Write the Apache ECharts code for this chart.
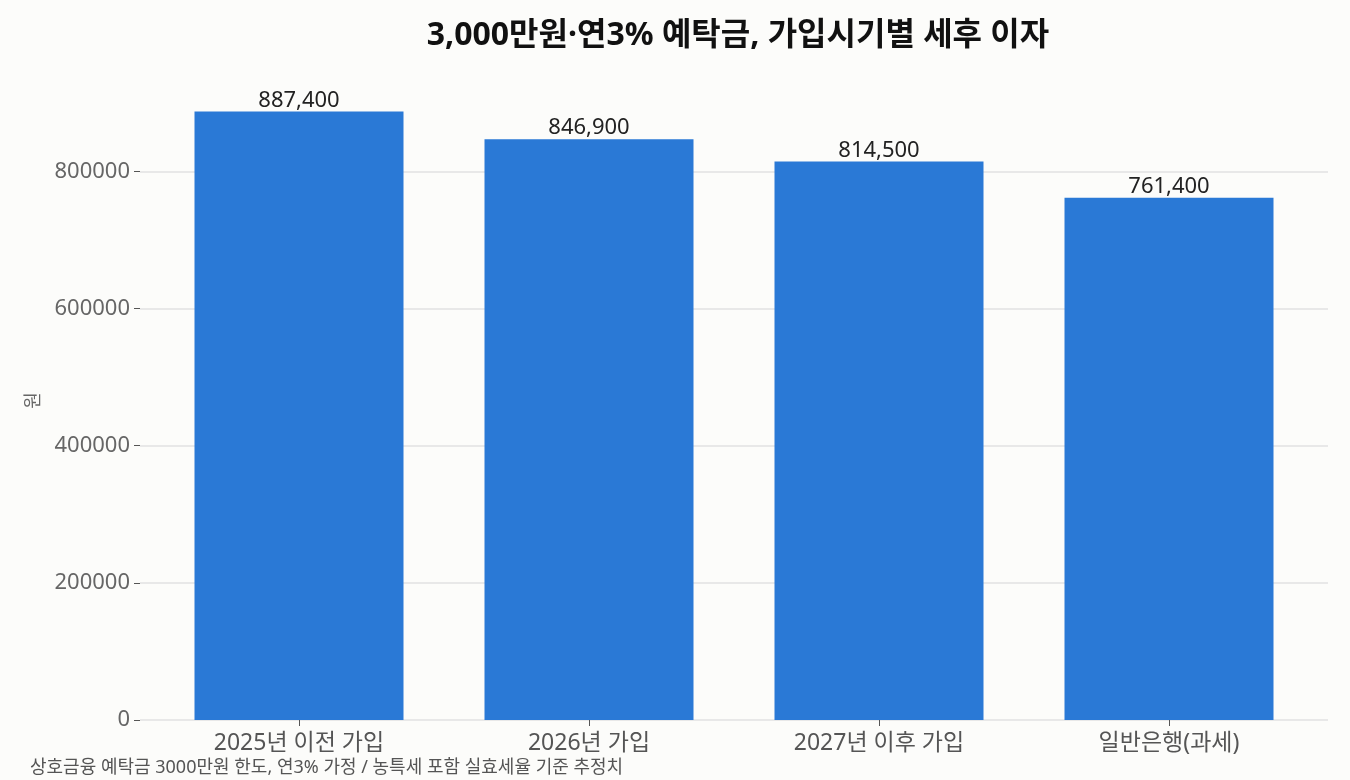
<!DOCTYPE html>
<html>
<head>
<meta charset="utf-8">
<script src="https://cdn.jsdelivr.net/npm/echarts@6/dist/echarts.min.js"></script>
<style>
  html, body { margin: 0; padding: 0; background: #fcfcfa; }
  #chart { width: 1350px; height: 780px; }
</style>
</head>
<body>
<div id="chart"></div>
<script>
// 가입시기별 세후 이자 (원)
const categories = ["2025년 이전 가입", "2026년 가입", "2027년 이후 가입", "일반은행(과세)"];
const interest = [887400, 846900, 814500, 761400];
const yMax = 931770;

const font = "'Noto Sans', 'Noto Sans CJK KR', sans-serif";
const chart = echarts.init(document.getElementById("chart"));

chart.setOption({
    backgroundColor: "#fcfcfa",
    textStyle: { fontFamily: font },
    title: [{
        text: "3,000만원·연3% 예탁금, 가입시기별 세후 이자",
        left: 733,
        top: 15,
        textAlign: "center",
        textStyle: { fontSize: 32, fontWeight: "bold", color: "#111", fontFamily: font }
    }, {
        text: "상호금융 예탁금 3000만원 한도, 연3% 가정 / 농특세 포함 실효세율 기준 추정치",
        left: 25,
        top: 754,
        textStyle: { fontSize: 18, fontWeight: "normal", color: "#555", fontFamily: font }
    }],
    grid: [
        // 눈금/격자용 (넓은 영역)
        { left: 140, right: 22, top: 81, bottom: 60 },
        // 막대용
        { left: 154, right: 36, top: 81, bottom: 60 }
    ],
    xAxis: [{
        gridIndex: 0,
        type: "value",
        min: 0,
        max: 1,
        show: false
    }, {
        gridIndex: 1,
        type: "category",
        data: categories,
        axisLine: { show: false },
        axisTick: { show: true, alignWithLabel: true, length: 6, lineStyle: { color: "#555" } },
        axisLabel: { fontSize: 23, color: "#555", margin: 12, fontFamily: font }
    }],
    yAxis: [{
        gridIndex: 0,
        type: "value",
        min: 0,
        max: yMax,
        interval: 200000,
        name: "원",
        nameLocation: "middle",
        nameGap: 97,
        nameRotate: 90,
        nameTextStyle: { fontSize: 18, color: "#666", fontFamily: font },
        axisLine: { show: false },
        axisTick: { show: true, length: 6, lineStyle: { color: "#555" } },
        axisLabel: {
            fontSize: 22, color: "#666", margin: 10, showMaxLabel: false, fontFamily: font,
            formatter: v => String(v)
        },
        splitLine: { show: true, showMaxLine: false, lineStyle: { color: "#e2e2e2", width: 1.5 } }
    }, {
        gridIndex: 1,
        type: "value",
        min: 0,
        max: yMax,
        show: false
    }],
    series: [{
        type: "bar",
        xAxisIndex: 1,
        yAxisIndex: 1,
        data: interest,
        barWidth: 209,
        itemStyle: { color: "#2a79d6" },
        label: {
            show: true,
            position: "top",
            distance: 0,
            fontSize: 22,
            color: "#222",
            fontFamily: font,
            formatter: p => p.value.toLocaleString("en-US")
        }
    }]
});
</script>
</body>
</html>
